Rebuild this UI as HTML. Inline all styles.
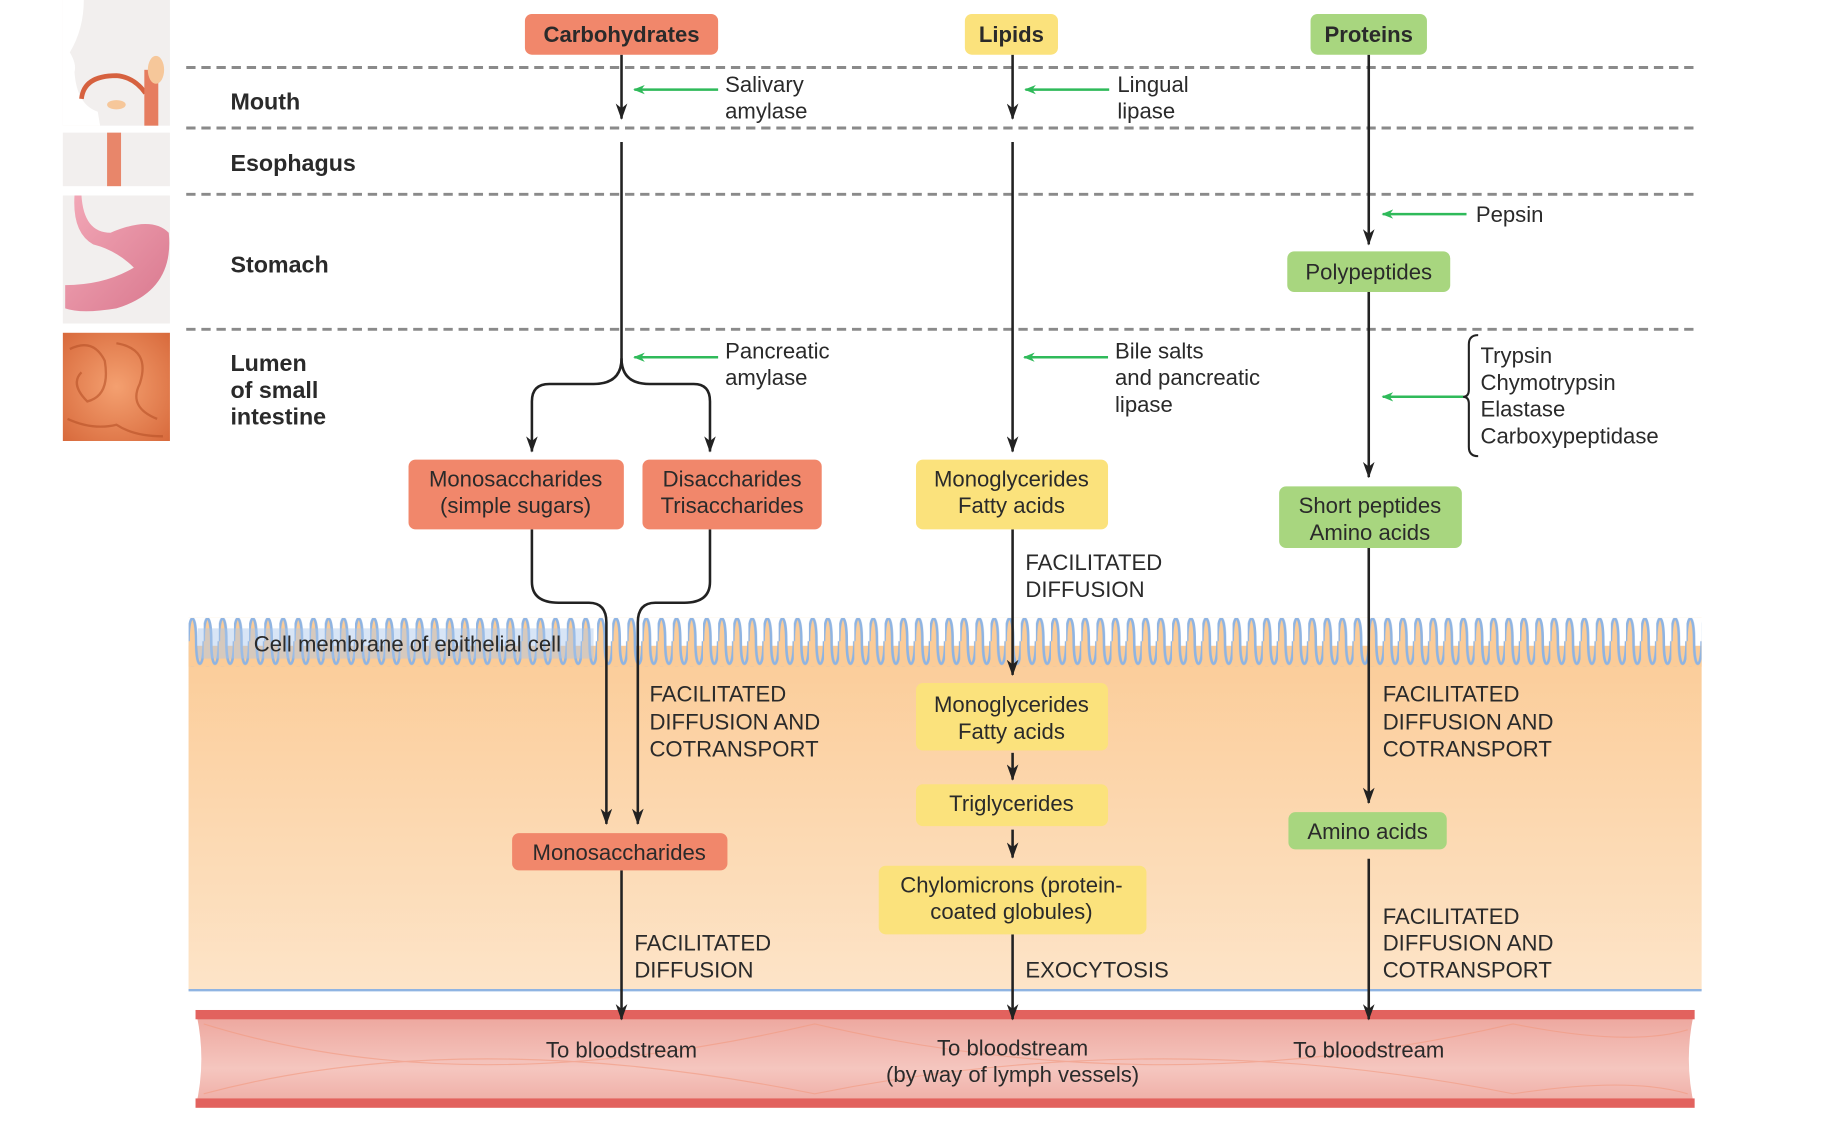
<!DOCTYPE html>
<html><head><meta charset="utf-8">
<style>
html,body{margin:0;padding:0;background:#fff;width:1825px;height:1131px;overflow:hidden}
svg{display:block}
text{font-family:"Liberation Sans",Arial,sans-serif;fill:#2a2a2a}
.b{font-weight:bold;fill:#1e1e1e}
.t{font-size:19px}
.lb{font-size:20px}
.c{text-anchor:middle}
</style></head><body>
<svg width="1825" height="1131" viewBox="0 0 1568 972" preserveAspectRatio="none" xmlns="http://www.w3.org/2000/svg">
<defs>
<marker id="ahd" markerWidth="10" markerHeight="14" refX="5" refY="13" orient="0" markerUnits="userSpaceOnUse" viewBox="0 0 10 14">
<path d="M0,0 L5,4 L10,0 L5,14 Z" fill="#222"/></marker>
<marker id="ga" markerWidth="10" markerHeight="8" refX="1" refY="4" orient="0" markerUnits="userSpaceOnUse" viewBox="0 0 10 8">
<path d="M0,4 L10,0 L7,4 L10,8 Z" fill="#2fba5a"/></marker>
<linearGradient id="epi" x1="0" y1="0" x2="0" y2="1">
<stop offset="0" stop-color="#fbcc98"/><stop offset="1" stop-color="#fde4c8"/></linearGradient>
<linearGradient id="ves" x1="0" y1="0" x2="0" y2="1">
<stop offset="0" stop-color="#eca39a"/><stop offset="0.6" stop-color="#f5c6bf"/><stop offset="1" stop-color="#eeaaa2"/></linearGradient>
<pattern id="wave" x="162" y="531" width="13" height="42" patternUnits="userSpaceOnUse">
<path d="M0,20 C0,-6 6.5,-6 6.5,20 C6.5,46 13,46 13,20 L13,42 L0,42 Z" fill="#fbcc98"/>
<path d="M0,20 C0,-6 6.5,-6 6.5,20 C6.5,46 13,46 13,20" fill="none" stroke="#8fb4e2" stroke-width="2.2"/>
</pattern>
<linearGradient id="st" x1="0" y1="0" x2="1" y2="1"><stop offset="0" stop-color="#f3a9b8"/><stop offset="1" stop-color="#d9788e"/></linearGradient>
<radialGradient id="gut" cx="0.5" cy="0.5" r="0.7"><stop offset="0" stop-color="#f4a070"/><stop offset="1" stop-color="#d86a3c"/></radialGradient>
</defs>

<!-- left images -->
<rect x="54" y="0" width="92" height="108" fill="#f2efee"/>
<path d="M54,0 L72,0 Q72,25 60,45 Q66,55 64,62 Q66,90 84,96 L86,108 L54,108 Z" fill="#fff"/>
<path d="M70,85 Q72,65 100,65 Q115,66 125,80" fill="none" stroke="#d6613f" stroke-width="4"/>
<rect x="124" y="60" width="12" height="48" fill="#e67d60"/>
<ellipse cx="134" cy="60" rx="7" ry="12" fill="#f6c79a"/>
<ellipse cx="100" cy="90" rx="8" ry="4" fill="#f6c79a"/>
<rect x="54" y="114" width="92" height="46" fill="#f2efee"/>
<rect x="92" y="114" width="12" height="46" fill="#e8866a"/>
<rect x="54" y="168" width="92" height="110" fill="#f2efee"/>
<path d="M70,168 Q72,200 95,200 Q130,185 145,200 Q150,250 100,265 Q70,270 56,265 L56,245 Q90,245 115,230 Q100,215 80,210 Q62,200 64,168 Z" fill="url(#st)"/>
<rect x="54" y="286" width="92" height="93" fill="url(#gut)"/>
<g fill="none" stroke="#b85228" stroke-width="2" opacity="0.6">
<path d="M60,300 Q80,290 90,310 Q95,340 75,345 Q60,330 70,320"/><path d="M100,295 Q130,300 120,330 Q110,350 135,360"/><path d="M58,360 Q80,370 100,365 Q115,375 140,375"/></g>

<!-- dashed lines -->
<g stroke="#8a8a8a" stroke-width="2.5" stroke-dasharray="8,5">
<line x1="160" y1="58" x2="1460" y2="58"/><line x1="160" y1="110" x2="1460" y2="110"/>
<line x1="160" y1="167" x2="1460" y2="167"/><line x1="160" y1="283" x2="1460" y2="283"/></g>

<!-- region labels -->
<g class="b lb">
<text x="198" y="94">Mouth</text><text x="198" y="147">Esophagus</text><text x="198" y="234">Stomach</text>
<text x="198" y="319">Lumen</text><text x="198" y="342">of small</text><text x="198" y="365">intestine</text>
<text x="198" y="685">Epithelium of</text><text x="198" y="708">small intestine</text></g>

<!-- epithelium -->
<rect x="162" y="555" width="1300" height="296" fill="url(#epi)"/>
<rect x="162" y="531" width="1300" height="42" fill="url(#wave)"/>
<rect x="170" y="540" width="340" height="26" fill="#a9c6ea" opacity="0.45"/>
<text x="218" y="560" class="t">Cell membrane of epithelial cell</text>
<line x1="162" y1="851" x2="1462" y2="851" stroke="#8fb4e2" stroke-width="2"/>

<!-- vessel -->
<path d="M168,868 L1456,868 Q1446,910 1456,952 L168,952 Q178,910 168,868 Z" fill="url(#ves)"/>
<g fill="none" stroke="#f29a80" stroke-width="1" opacity="0.6">
<path d="M175,880 Q400,950 700,880 Q1000,950 1300,880 Q1400,900 1450,885"/>
<path d="M175,940 Q400,880 700,940 Q1000,880 1300,940 Q1400,925 1450,940"/></g>
<rect x="168" y="868" width="1288" height="8" fill="#e2625e"/>
<rect x="168" y="944" width="1288" height="8" fill="#e2625e"/>
<g class="t c"><text x="534" y="909">To bloodstream</text><text x="870" y="907">To bloodstream</text>
<text x="870" y="930">(by way of lymph vessels)</text><text x="1176" y="909">To bloodstream</text></g>

<!-- black arrows -->
<g stroke="#222" stroke-width="2.2" fill="none">
<line x1="534" y1="47" x2="534" y2="102" marker-end="url(#ahd)"/>
<path d="M534,122 L534,308 Q534,330 510,330 L472,330 Q457,330 457,345 L457,388" marker-end="url(#ahd)"/>
<path d="M534,308 Q534,330 558,330 L596,330 Q610,330 610,345 L610,388" marker-end="url(#ahd)"/>
<path d="M457,455 L457,500 Q457,518 480,518 L506,518 Q521,518 521,535 L521,708" marker-end="url(#ahd)"/>
<path d="M610,455 L610,500 Q610,518 588,518 L563,518 Q548,518 548,535 L548,708" marker-end="url(#ahd)"/>
<line x1="534" y1="748" x2="534" y2="876" marker-end="url(#ahd)"/>
<line x1="870" y1="47" x2="870" y2="102" marker-end="url(#ahd)"/>
<line x1="870" y1="122" x2="870" y2="388" marker-end="url(#ahd)"/>
<line x1="870" y1="455" x2="870" y2="580" marker-end="url(#ahd)"/>
<line x1="870" y1="647" x2="870" y2="670" marker-end="url(#ahd)"/>
<line x1="870" y1="713" x2="870" y2="737" marker-end="url(#ahd)"/>
<line x1="870" y1="803" x2="870" y2="876" marker-end="url(#ahd)"/>
<line x1="1176" y1="47" x2="1176" y2="210" marker-end="url(#ahd)"/>
<line x1="1176" y1="251" x2="1176" y2="410" marker-end="url(#ahd)"/>
<line x1="1176" y1="471" x2="1176" y2="690" marker-end="url(#ahd)"/>
<line x1="1176" y1="738" x2="1176" y2="876" marker-end="url(#ahd)"/>
<path d="M1270,288 Q1262,288 1262,296 L1262,335 Q1262,341 1257,341 Q1262,341 1262,347 L1262,384 Q1262,392 1270,392" stroke-width="1.8"/>
</g>
<!-- green arrows -->
<g stroke="#2fba5a" stroke-width="2.2">
<line x1="617" y1="77" x2="545" y2="77" marker-end="url(#ga)"/>
<line x1="953" y1="77" x2="881" y2="77" marker-end="url(#ga)"/>
<line x1="1260" y1="184" x2="1188" y2="184" marker-end="url(#ga)"/>
<line x1="617" y1="307" x2="545" y2="307" marker-end="url(#ga)"/>
<line x1="952" y1="307" x2="880" y2="307" marker-end="url(#ga)"/>
<line x1="1257" y1="341" x2="1188" y2="341" marker-end="url(#ga)"/>
</g>

<!-- enzyme labels -->
<g class="t">
<text x="623" y="79">Salivary</text><text x="623" y="102">amylase</text>
<text x="960" y="79">Lingual</text><text x="960" y="102">lipase</text>
<text x="1268" y="191">Pepsin</text>
<text x="623" y="308">Pancreatic</text><text x="623" y="331">amylase</text>
<text x="958" y="308">Bile salts</text><text x="958" y="331">and pancreatic</text><text x="958" y="354">lipase</text>
<text x="1272" y="312">Trypsin</text><text x="1272" y="335">Chymotrypsin</text><text x="1272" y="358">Elastase</text><text x="1272" y="381">Carboxypeptidase</text>
<text x="881" y="490">FACILITATED</text><text x="881" y="513">DIFFUSION</text>
<text x="558" y="603">FACILITATED</text><text x="558" y="627">DIFFUSION AND</text><text x="558" y="650">COTRANSPORT</text>
<text x="545" y="817">FACILITATED</text><text x="545" y="840">DIFFUSION</text>
<text x="881" y="840">EXOCYTOSIS</text>
<text x="1188" y="603">FACILITATED</text><text x="1188" y="627">DIFFUSION AND</text><text x="1188" y="650">COTRANSPORT</text>
<text x="1188" y="794">FACILITATED</text><text x="1188" y="817">DIFFUSION AND</text><text x="1188" y="840">COTRANSPORT</text>
</g>

<!-- boxes -->
<g>
<rect x="451" y="12" width="166" height="35" rx="6" fill="#f1876b"/>
<rect x="829" y="12" width="80" height="35" rx="6" fill="#fbe27c"/>
<rect x="1126" y="12" width="100" height="35" rx="6" fill="#a8d67f"/>
<rect x="1106" y="216" width="140" height="35" rx="6" fill="#a8d67f"/>
<rect x="351" y="395" width="185" height="60" rx="6" fill="#f1876b"/>
<rect x="552" y="395" width="154" height="60" rx="6" fill="#f1876b"/>
<rect x="787" y="395" width="165" height="60" rx="6" fill="#fbe27c"/>
<rect x="1099" y="418" width="157" height="53" rx="6" fill="#a8d67f"/>
<rect x="787" y="587" width="165" height="58" rx="6" fill="#fbe27c"/>
<rect x="787" y="674" width="165" height="36" rx="6" fill="#fbe27c"/>
<rect x="755" y="744" width="230" height="59" rx="6" fill="#fbe27c"/>
<rect x="440" y="716" width="185" height="32" rx="6" fill="#f1876b"/>
<rect x="1107" y="698" width="136" height="32" rx="6" fill="#a8d67f"/>
</g>
<g class="b t c"><text x="534" y="36">Carbohydrates</text><text x="869" y="36">Lipids</text><text x="1176" y="36">Proteins</text></g>
<g class="t c">
<text x="1176" y="240">Polypeptides</text>
<text x="443" y="418">Monosaccharides</text><text x="443" y="441">(simple sugars)</text>
<text x="629" y="418">Disaccharides</text><text x="629" y="441">Trisaccharides</text>
<text x="869" y="418">Monoglycerides</text><text x="869" y="441">Fatty acids</text>
<text x="1177" y="441">Short peptides</text><text x="1177" y="464">Amino acids</text>
<text x="869" y="612">Monoglycerides</text><text x="869" y="635">Fatty acids</text>
<text x="869" y="697">Triglycerides</text>
<text x="869" y="767">Chylomicrons (protein-</text><text x="869" y="790">coated globules)</text>
<text x="532" y="739">Monosaccharides</text>
<text x="1175" y="721">Amino acids</text>
</g>
</svg>
</body></html>
